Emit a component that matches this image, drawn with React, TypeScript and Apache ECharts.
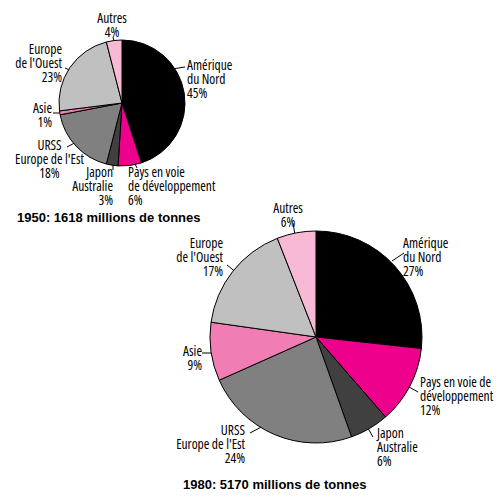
import React, { useEffect, useRef } from "react";
import * as echarts from "echarts";

const names1950 = [
  "Amérique\ndu Nord",
  "Pays en voie\nde développement",
  "Japon\nAustralie",
  "URSS\nEurope de l'Est",
  "Asie",
  "Europe\nde l'Ouest",
  "Autres",
];
const values1950 = [45, 6, 3, 18, 1, 23, 4];

const names1980 = [
  "Amérique\ndu Nord",
  "Pays en voie de\ndéveloppement",
  "Japon\nAustralie",
  "URSS\nEurope de l'Est",
  "Asie",
  "Europe\nde l'Ouest",
  "Autres",
];
const values1980 = [27, 12, 6, 24, 9, 17, 6];

const title1950 = "1950: 1618 millions de tonnes";
const title1980 = "1980: 5170 millions de tonnes";

const colors1950 = ["#000000", "#ec008c", "#404040", "#808080", "#f07db3", "#c0c0c0", "#f7b9d5"];
const colors1980 = ["#000000", "#ec008c", "#404040", "#808080", "#f07db3", "#c0c0c0", "#f7b9d5"];

type Lay = [number, number, string, number[], number[]];
const layout1950: Lay[] = [
  [187, 78.5, "left", [172, 69], [185, 67]],
  [128, 186, "left", [132, 158], [137, 168]],
  [113, 186, "right", [113, 157], [113, 170]],
  [49.5, 159, "center", [80, 140], [67, 147]],
  [52, 115, "right", [63, 113], [53, 113]],
  [62, 63, "right", [80, 75], [65, 68]],
  [112, 25, "center", [115, 45], [113, 37]],
];
const layout1980: Lay[] = [
  [403, 257, "left", [392, 261], [404, 253]],
  [420, 396, "left", [402, 383], [418, 392]],
  [377, 447, "left", [365, 423], [373, 437]],
  [245, 444, "right", [265, 425], [250, 433]],
  [202, 358, "right", [219, 353], [202, 353]],
  [223, 257, "right", [242, 277], [227, 265]],
  [288, 215, "center", [296, 241], [293, 223]],
];

const FONT = "'Open Sans';font-stretch:condensed";

function makeSeries(names: string[], values: number[], colors: string[], lay: Lay[], center: number[], radius: number) {
  return {
    type: "pie",
    center,
    radius,
    startAngle: 90,
    clockwise: true,
    avoidLabelOverlap: false,
    silent: true,
    data: names.map((n, i) => ({
      name: n,
      value: values[i],
      itemStyle: { color: colors[i] },
    })),
    itemStyle: { borderColor: "#000", borderWidth: 1 },
    label: {
      show: true,
      position: "outside",
      formatter: (p: any) => `${p.name}\n${p.value}%`,
      fontFamily: FONT,
      fontSize: 13.5,
      lineHeight: 14,
      color: "#000",
    },
    labelLine: { show: true, lineStyle: { color: "#000", width: 1 } },
    labelLayout: (params: any) => {
      const L = lay[params.dataIndex];
      return {
        x: L[0],
        y: L[1],
        align: L[2],
        verticalAlign: "middle",
        labelLinePoints: [L[3], L[4], L[4]],
      };
    },
  };
}

const TITLE_STYLE = {
  fontFamily: "'Liberation Sans', Arial, sans-serif",
  fontWeight: "bold",
  fontSize: 13,
  color: "#000",
};

export default function App() {
  const ref = useRef<HTMLDivElement>(null);
  useEffect(() => {
    if (!ref.current) return;
    const chart = echarts.init(ref.current, null, { renderer: "svg" });
    chart.setOption({
      animation: false,
      backgroundColor: "#fff",
      title: [
        { text: title1950, left: 17, top: 211, padding: 0, textStyle: TITLE_STYLE },
        { text: title1980, left: 183, top: 478, padding: 0, textStyle: TITLE_STYLE },
      ],
      series: [
        makeSeries(names1950, values1950, colors1950, layout1950, [122, 103], 63),
        makeSeries(names1980, values1980, colors1980, layout1980, [316, 337], 106),
      ],
    });
    return () => chart.dispose();
  }, []);
  return (
    <div
      ref={ref}
      style={{ position: "fixed", left: 0, top: 0, width: 498, height: 497 }}
    />
  );
}
